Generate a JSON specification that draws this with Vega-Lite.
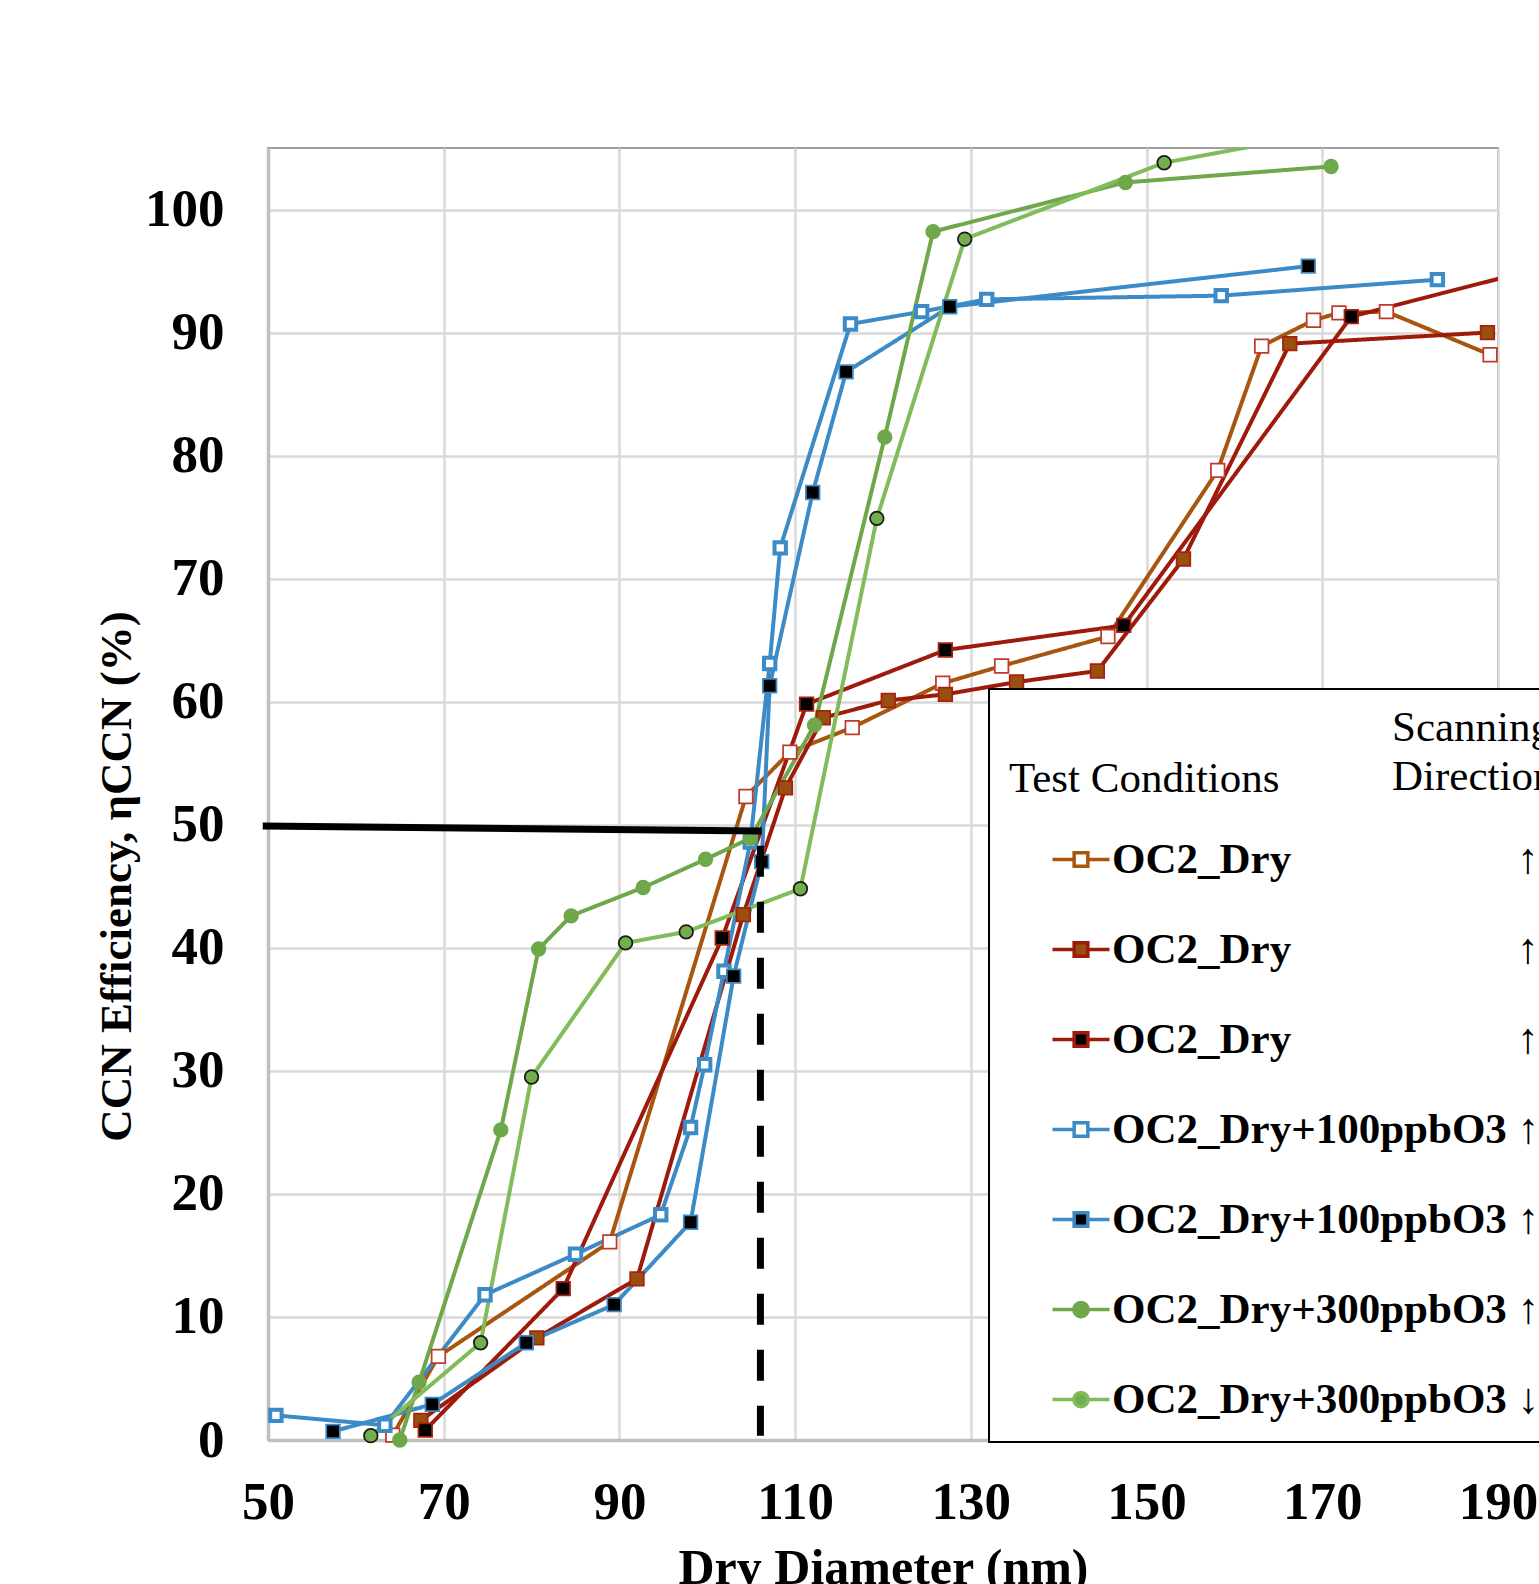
{
  "$schema": "https://vega.github.io/schema/vega-lite/v6.json",
  "width": 1230,
  "height": 1292,
  "autosize": {"type": "none"},
  "padding": {"left": 268, "top": 148, "right": 41, "bottom": 144},
  "background": "white",
  "config": {
    "view": {"stroke": "#a0a0a0", "strokeWidth": 2},
    "font": "Liberation Serif",
    "legend": {"strokeWidth": 2}
  },
  "datasets": {
    "runs": [
      {"series": "1 OC2_Dry", "scan": "1 ↑", "d": 64.2, "eta": 0.4},
      {"series": "1 OC2_Dry", "scan": "1 ↑", "d": 69.4, "eta": 6.8},
      {"series": "1 OC2_Dry", "scan": "1 ↑", "d": 88.9, "eta": 16.1},
      {"series": "1 OC2_Dry", "scan": "1 ↑", "d": 104.4, "eta": 52.3},
      {"series": "1 OC2_Dry", "scan": "1 ↑", "d": 109.4, "eta": 55.9},
      {"series": "1 OC2_Dry", "scan": "1 ↑", "d": 116.5, "eta": 57.9},
      {"series": "1 OC2_Dry", "scan": "1 ↑", "d": 126.8, "eta": 61.5},
      {"series": "1 OC2_Dry", "scan": "1 ↑", "d": 133.5, "eta": 62.9},
      {"series": "1 OC2_Dry", "scan": "1 ↑", "d": 145.6, "eta": 65.3},
      {"series": "1 OC2_Dry", "scan": "1 ↑", "d": 158.1, "eta": 78.8},
      {"series": "1 OC2_Dry", "scan": "1 ↑", "d": 163.1, "eta": 88.9},
      {"series": "1 OC2_Dry", "scan": "1 ↑", "d": 169.0, "eta": 91.0},
      {"series": "1 OC2_Dry", "scan": "1 ↑", "d": 171.9, "eta": 91.6},
      {"series": "1 OC2_Dry", "scan": "1 ↑", "d": 177.3, "eta": 91.7},
      {"series": "1 OC2_Dry", "scan": "1 ↑", "d": 189.1, "eta": 88.2},
      {"series": "2 OC2_Dry", "scan": "2 ↑", "d": 67.4, "eta": 1.6},
      {"series": "2 OC2_Dry", "scan": "2 ↑", "d": 80.6, "eta": 8.3},
      {"series": "2 OC2_Dry", "scan": "2 ↑", "d": 92.0, "eta": 13.1},
      {"series": "2 OC2_Dry", "scan": "2 ↑", "d": 104.1, "eta": 42.7},
      {"series": "2 OC2_Dry", "scan": "2 ↑", "d": 108.9, "eta": 53.0},
      {"series": "2 OC2_Dry", "scan": "2 ↑", "d": 113.2, "eta": 58.7},
      {"series": "2 OC2_Dry", "scan": "2 ↑", "d": 120.6, "eta": 60.1},
      {"series": "2 OC2_Dry", "scan": "2 ↑", "d": 127.1, "eta": 60.6},
      {"series": "2 OC2_Dry", "scan": "2 ↑", "d": 135.2, "eta": 61.6},
      {"series": "2 OC2_Dry", "scan": "2 ↑", "d": 144.4, "eta": 62.5},
      {"series": "2 OC2_Dry", "scan": "2 ↑", "d": 154.2, "eta": 71.6},
      {"series": "2 OC2_Dry", "scan": "2 ↑", "d": 166.3, "eta": 89.1},
      {"series": "2 OC2_Dry", "scan": "2 ↑", "d": 188.8, "eta": 90.0},
      {"series": "3 OC2_Dry", "scan": "3 ↑", "d": 67.9, "eta": 0.8},
      {"series": "3 OC2_Dry", "scan": "3 ↑", "d": 83.6, "eta": 12.3},
      {"series": "3 OC2_Dry", "scan": "3 ↑", "d": 101.7, "eta": 40.8},
      {"series": "3 OC2_Dry", "scan": "3 ↑", "d": 111.3, "eta": 59.8},
      {"series": "3 OC2_Dry", "scan": "3 ↑", "d": 127.1, "eta": 64.2},
      {"series": "3 OC2_Dry", "scan": "3 ↑", "d": 147.4, "eta": 66.2},
      {"series": "3 OC2_Dry", "scan": "3 ↑", "d": 173.3, "eta": 91.3},
      {"series": "3 OC2_Dry", "scan": "3 ↑", "d": 200.0, "eta": 96.2},
      {"series": "4 OC2_Dry+100ppbO3", "scan": "4 ↑", "d": 50.9, "eta": 2.0},
      {"series": "4 OC2_Dry+100ppbO3", "scan": "4 ↑", "d": 63.3, "eta": 1.2},
      {"series": "4 OC2_Dry+100ppbO3", "scan": "4 ↑", "d": 74.7, "eta": 11.8},
      {"series": "4 OC2_Dry+100ppbO3", "scan": "4 ↑", "d": 85.0, "eta": 15.1},
      {"series": "4 OC2_Dry+100ppbO3", "scan": "4 ↑", "d": 94.7, "eta": 18.3},
      {"series": "4 OC2_Dry+100ppbO3", "scan": "4 ↑", "d": 98.1, "eta": 25.4},
      {"series": "4 OC2_Dry+100ppbO3", "scan": "4 ↑", "d": 99.7, "eta": 30.5},
      {"series": "4 OC2_Dry+100ppbO3", "scan": "4 ↑", "d": 101.9, "eta": 38.1},
      {"series": "4 OC2_Dry+100ppbO3", "scan": "4 ↑", "d": 104.9, "eta": 48.6},
      {"series": "4 OC2_Dry+100ppbO3", "scan": "4 ↑", "d": 107.1, "eta": 63.1},
      {"series": "4 OC2_Dry+100ppbO3", "scan": "4 ↑", "d": 108.3, "eta": 72.5},
      {"series": "4 OC2_Dry+100ppbO3", "scan": "4 ↑", "d": 116.3, "eta": 90.7},
      {"series": "4 OC2_Dry+100ppbO3", "scan": "4 ↑", "d": 124.4, "eta": 91.7},
      {"series": "4 OC2_Dry+100ppbO3", "scan": "4 ↑", "d": 131.8, "eta": 92.7},
      {"series": "4 OC2_Dry+100ppbO3", "scan": "4 ↑", "d": 158.5, "eta": 93.0},
      {"series": "4 OC2_Dry+100ppbO3", "scan": "4 ↑", "d": 183.1, "eta": 94.3},
      {"series": "5 OC2_Dry+100ppbO3", "scan": "5 ↑", "d": 57.4, "eta": 0.7},
      {"series": "5 OC2_Dry+100ppbO3", "scan": "5 ↑", "d": 68.7, "eta": 2.9},
      {"series": "5 OC2_Dry+100ppbO3", "scan": "5 ↑", "d": 79.4, "eta": 7.9},
      {"series": "5 OC2_Dry+100ppbO3", "scan": "5 ↑", "d": 89.4, "eta": 11.0},
      {"series": "5 OC2_Dry+100ppbO3", "scan": "5 ↑", "d": 98.1, "eta": 17.7},
      {"series": "5 OC2_Dry+100ppbO3", "scan": "5 ↑", "d": 103.0, "eta": 37.7},
      {"series": "5 OC2_Dry+100ppbO3", "scan": "5 ↑", "d": 106.2, "eta": 47.0},
      {"series": "5 OC2_Dry+100ppbO3", "scan": "5 ↑", "d": 107.1, "eta": 61.3},
      {"series": "5 OC2_Dry+100ppbO3", "scan": "5 ↑", "d": 112.0, "eta": 77.0},
      {"series": "5 OC2_Dry+100ppbO3", "scan": "5 ↑", "d": 115.8, "eta": 86.8},
      {"series": "5 OC2_Dry+100ppbO3", "scan": "5 ↑", "d": 127.6, "eta": 92.1},
      {"series": "5 OC2_Dry+100ppbO3", "scan": "5 ↑", "d": 168.4, "eta": 95.4},
      {"series": "6 OC2_Dry+300ppbO3", "scan": "6 ↑", "d": 65.0, "eta": 0.0},
      {"series": "6 OC2_Dry+300ppbO3", "scan": "6 ↑", "d": 67.2, "eta": 4.7},
      {"series": "6 OC2_Dry+300ppbO3", "scan": "6 ↑", "d": 76.5, "eta": 25.2},
      {"series": "6 OC2_Dry+300ppbO3", "scan": "6 ↑", "d": 80.8, "eta": 39.9},
      {"series": "6 OC2_Dry+300ppbO3", "scan": "6 ↑", "d": 84.5, "eta": 42.6},
      {"series": "6 OC2_Dry+300ppbO3", "scan": "6 ↑", "d": 92.7, "eta": 44.9},
      {"series": "6 OC2_Dry+300ppbO3", "scan": "6 ↑", "d": 99.8, "eta": 47.2},
      {"series": "6 OC2_Dry+300ppbO3", "scan": "6 ↑", "d": 104.9, "eta": 48.9},
      {"series": "6 OC2_Dry+300ppbO3", "scan": "6 ↑", "d": 112.2, "eta": 58.1},
      {"series": "6 OC2_Dry+300ppbO3", "scan": "6 ↑", "d": 120.2, "eta": 81.5},
      {"series": "6 OC2_Dry+300ppbO3", "scan": "6 ↑", "d": 125.7, "eta": 98.2},
      {"series": "6 OC2_Dry+300ppbO3", "scan": "6 ↑", "d": 147.6, "eta": 102.2},
      {"series": "6 OC2_Dry+300ppbO3", "scan": "6 ↑", "d": 171.0, "eta": 103.5},
      {"series": "7 OC2_Dry+300ppbO3", "scan": "7 ↓", "d": 61.7, "eta": 0.35},
      {"series": "7 OC2_Dry+300ppbO3", "scan": "7 ↓", "d": 74.2, "eta": 7.9},
      {"series": "7 OC2_Dry+300ppbO3", "scan": "7 ↓", "d": 80.0, "eta": 29.5},
      {"series": "7 OC2_Dry+300ppbO3", "scan": "7 ↓", "d": 90.7, "eta": 40.4},
      {"series": "7 OC2_Dry+300ppbO3", "scan": "7 ↓", "d": 97.6, "eta": 41.3},
      {"series": "7 OC2_Dry+300ppbO3", "scan": "7 ↓", "d": 110.6, "eta": 44.8},
      {"series": "7 OC2_Dry+300ppbO3", "scan": "7 ↓", "d": 119.3, "eta": 74.9},
      {"series": "7 OC2_Dry+300ppbO3", "scan": "7 ↓", "d": 129.3, "eta": 97.6},
      {"series": "7 OC2_Dry+300ppbO3", "scan": "7 ↓", "d": 152.0, "eta": 103.8},
      {"series": "7 OC2_Dry+300ppbO3", "scan": "7 ↓", "d": 176.0, "eta": 107.0}
    ]
  },
  "layer": [
    {
      "data": {"name": "runs"},
      "mark": {"type": "line", "strokeWidth": 4, "clip": true},
      "encoding": {
        "x": {
          "field": "d", "type": "quantitative",
          "scale": {"domain": [50, 190], "nice": false, "zero": false},
          "axis": {
            "values": [50, 70, 90, 110, 130, 150, 170, 190],
            "title": "Dry Diameter (nm)",
            "grid": true, "gridColor": "#d9d9d9", "gridWidth": 2.5,
            "domainColor": "#bfbfbf", "domainWidth": 3.5,
            "ticks": false, "tickSize": 0,
            "labelFont": "Liberation Serif", "labelFontSize": 53, "labelFontWeight": "bold", "labelColor": "black",
            "labelPadding": 36, "labelFlush": false, "labelOverlap": false,
            "titleFont": "Liberation Serif", "titleFontSize": 50, "titleFontWeight": "bold", "titleColor": "black",
            "titleX": 615, "titleY": 143, "titleBaseline": "alphabetic", "titleAlign": "center"
          }
        },
        "y": {
          "field": "eta", "type": "quantitative",
          "scale": {"domain": [0, 105], "nice": false, "zero": false},
          "axis": {
            "values": [0, 10, 20, 30, 40, 50, 60, 70, 80, 90, 100],
            "title": "CCN Efficiency, ηCCN (%)",
            "grid": true, "gridColor": "#d9d9d9", "gridWidth": 2.5,
            "domainColor": "#bfbfbf", "domainWidth": 3.5,
            "ticks": false, "tickSize": 0,
            "labelFont": "Liberation Serif", "labelFontSize": 53, "labelFontWeight": "bold", "labelColor": "black",
            "labelPadding": 44, "labelOverlap": false,
            "titleFont": "Liberation Serif", "titleFontSize": 45, "titleFontWeight": "bold", "titleColor": "black",
            "titleX": -152, "titleY": 728, "titleBaseline": "middle", "titleAlign": "center", "titleAngle": -90
          }
        },
        "color": {
          "field": "series", "type": "nominal",
          "scale": {
            "domain": ["1 OC2_Dry", "2 OC2_Dry", "3 OC2_Dry", "4 OC2_Dry+100ppbO3", "5 OC2_Dry+100ppbO3", "6 OC2_Dry+300ppbO3", "7 OC2_Dry+300ppbO3"],
            "range": ["#a8560f", "#9e1a0b", "#9e1a0b", "#3c8ac6", "#3c8ac6", "#6ea84a", "#80bc5a"]
          },
          "legend": {
            "orient": "none", "legendX": 721, "legendY": 541,
            "title": ["", "Test Conditions"],
            "titleFont": "Liberation Serif", "titleFontSize": 43, "titleFontWeight": "normal", "titleColor": "black",
            "titleLineHeight": 49, "titlePadding": 28, "titleLimit": 1000, "titleAnchor": "start",
            "padding": 20,
            "strokeColor": "black", "fillColor": "white",
            "labelFont": "Liberation Serif", "labelFontSize": 43, "labelFontWeight": "bold", "labelColor": "black",
            "labelLimit": 3000,
            "labelExpr": "indexof(datum.label, 'ppb') >= 0 ? substring(datum.label, 2) + ' ' + (datum.index == 6 ? '↓' : '↑') : substring(datum.label, 2) + '\u2003\u2003\u2003\u2003\u2003 ↑'",
            "labelOffset": 0.5,
            "symbolSize": 3249, "symbolStrokeWidth": 3.5, "symbolOffset": 41.5, "symbolOpacity": 1,
            "rowPadding": 37,
            "encode": {
              "symbols": {
                "update": {
                  "shape": {"signal": "indexof(datum.value, '300') >= 0 ? 'M-1,0H-0.25M0.25,0H1M-0.25,0A0.25,0.25 0 1,0 0.25,0A0.25,0.25 0 1,0 -0.25,0Z' : 'M-1,0H-0.24M0.24,0H1M-0.24,-0.24H0.24V0.24H-0.24Z'"},
                  "fill": {"signal": "scale('fill', datum.value)"},
                  "strokeWidth": {"value": 3.5},
                  "opacity": {"value": 1}
                }
              }
            }
          }
        },
        "strokeDash": {
          "field": "scan", "type": "nominal",
          "scale": {
            "domain": ["1 ↑", "2 ↑", "3 ↑", "4 ↑", "5 ↑", "6 ↑", "7 ↓"],
            "range": [[1, 0], [1, 0], [1, 0], [1, 0], [1, 0], [1, 0], [1, 0]]
          },
          "legend": {
            "orient": "none", "legendX": 1124, "legendY": 559,
            "title": ["Scanning", "Direction"],
            "titleFont": "Liberation Serif", "titleFontSize": 43, "titleFontWeight": "normal", "titleColor": "black",
            "titleLineHeight": 49, "titlePadding": 32, "titleLimit": 1000, "titleAnchor": "start",
            "padding": 0,
            "labelExpr": "''",
            "labelFontSize": 43,
            "symbolType": "M0.99,0H1", "symbolSize": 3249, "symbolStrokeWidth": 3.5, "symbolOpacity": 0,
            "rowPadding": 37,
            "encode": {"symbols": {"update": {"opacity": {"value": 0}}}}
          }
        }
      }
    },
    {
      "data": {"name": "runs"},
      "transform": [{"filter": "datum.d <= 190 && datum.eta <= 105"}],
      "mark": {"type": "point", "filled": true, "opacity": 1},
      "encoding": {
        "x": {"field": "d", "type": "quantitative", "scale": {"domain": [50, 190], "nice": false, "zero": false}},
        "y": {"field": "eta", "type": "quantitative", "scale": {"domain": [0, 105], "nice": false, "zero": false}},
        "shape": {
          "field": "series", "type": "nominal", "legend": null,
          "scale": {
            "domain": ["7 OC2_Dry+300ppbO3", "6 OC2_Dry+300ppbO3", "5 OC2_Dry+100ppbO3", "4 OC2_Dry+100ppbO3", "3 OC2_Dry", "2 OC2_Dry", "1 OC2_Dry"],
            "range": ["circle", "circle", "square", "square", "square", "square", "square"]
          }
        },
        "fill": {
          "field": "series", "type": "nominal", "legend": null,
          "scale": {
            "domain": ["7 OC2_Dry+300ppbO3", "6 OC2_Dry+300ppbO3", "5 OC2_Dry+100ppbO3", "4 OC2_Dry+100ppbO3", "3 OC2_Dry", "2 OC2_Dry", "1 OC2_Dry"],
            "range": ["#72ae4c", "#6ea84a", "#000000", "#ffffff", "#000000", "#985010", "#ffffff"]
          }
        },
        "stroke": {
          "field": "series", "type": "nominal", "legend": null,
          "scale": {
            "domain": ["7 OC2_Dry+300ppbO3", "6 OC2_Dry+300ppbO3", "5 OC2_Dry+100ppbO3", "4 OC2_Dry+100ppbO3", "3 OC2_Dry", "2 OC2_Dry", "1 OC2_Dry"],
            "range": ["#1a1a1a", "#6ea84a", "#3c8ac6", "#3c8ac6", "#a8200e", "#a8200e", "#c0392b"]
          }
        },
        "size": {"condition": {"test": "datum.series == '4 OC2_Dry+100ppbO3'", "value": 130}, "value": 185},
        "strokeWidth": {"condition": {"test": "datum.series == '4 OC2_Dry+100ppbO3'", "value": 4}, "value": 1.75}
      }
    },
    {
      "data": {"values": [{"d": 49.4, "eta": 49.9, "d2": 106.2, "eta2": 49.5}]},
      "mark": {"type": "rule", "color": "black", "strokeWidth": 7, "strokeCap": "butt"},
      "encoding": {
        "x": {"field": "d", "type": "quantitative", "scale": {"domain": [50, 190], "nice": false, "zero": false}},
        "y": {"field": "eta", "type": "quantitative", "scale": {"domain": [0, 105], "nice": false, "zero": false}},
        "x2": {"field": "d2"},
        "y2": {"field": "eta2"}
      }
    },
    {
      "data": {"values": [{"d": 106.05, "eta": 48.3, "d2": 106.05, "eta2": 0.35}]},
      "mark": {"type": "rule", "color": "black", "strokeWidth": 7, "strokeCap": "butt", "strokeDash": [31, 25]},
      "encoding": {
        "x": {"field": "d", "type": "quantitative", "scale": {"domain": [50, 190], "nice": false, "zero": false}},
        "y": {"field": "eta", "type": "quantitative", "scale": {"domain": [0, 105], "nice": false, "zero": false}},
        "x2": {"field": "d2"},
        "y2": {"field": "eta2"}
      }
    }
  ]
}
